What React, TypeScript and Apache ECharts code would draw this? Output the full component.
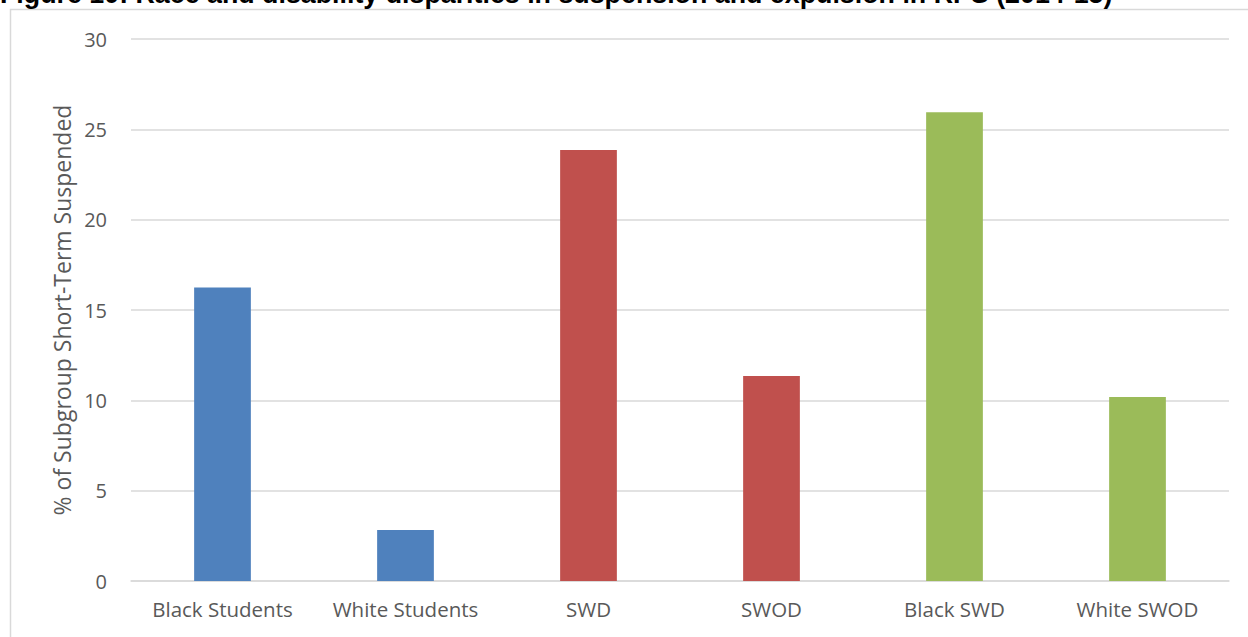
import React, { useEffect, useRef } from "react";
import * as echarts from "echarts";

const categories = ["Black Students", "White Students", "SWD", "SWOD", "Black SWD", "White SWOD"];
const values = [16.25, 2.82, 23.85, 11.35, 25.95, 10.18];
const barColors = ["#4F81BD", "#4F81BD", "#C0504D", "#C0504D", "#9BBB59", "#9BBB59"];
const yTicks = { min: 0, max: 30, interval: 5 };
const titleText = "Figure 10: Race and disability disparities in suspension and expulsion in RPS (2014-15)";
const yAxisName = "% of Subgroup Short-Term Suspended";

export default function App() {
  const ref = useRef<HTMLDivElement>(null);
  useEffect(() => {
    if (!ref.current) return;
    const chart = echarts.init(ref.current, null, { renderer: "svg" });
    chart.setOption({
      animation: false,
      backgroundColor: "#ffffff",
      grid: { left: 131, right: 19, top: 39, bottom: 56, containLabel: false },
      graphic: [
        {
          type: "rect",
          shape: { x: 10.5, y: 9.5, width: 1300, height: 700 },
          style: { fill: "none", stroke: "#d9d9d9", lineWidth: 1.5 },
          z: -1,
        },
        {
          type: "text",
          x: 0,
          y: -19.5,
          style: {
            text: titleText,
            font: 'bold 26.8px "Liberation Sans", Arial, sans-serif',
            fill: "#000000",
            textVerticalAlign: "top",
          },
        },
      ],
      xAxis: {
        type: "category",
        data: categories,
        axisLine: { lineStyle: { color: "#d9d9d9", width: 1.5 } },
        axisTick: { show: false },
        axisLabel: {
          color: "#595959",
          fontSize: 20.5,
          fontFamily: '"Open Sans", sans-serif',
          margin: 17,
          interval: 0,
          hideOverlap: false,
        },
      },
      yAxis: {
        type: "value",
        min: yTicks.min,
        max: yTicks.max,
        interval: yTicks.interval,
        name: yAxisName,
        nameLocation: "middle",
        nameGap: 56,
        nameRotate: 90,
        nameTextStyle: {
          color: "#595959",
          fontSize: 23,
          fontFamily: '"Open Sans", sans-serif',
        },
        axisLine: { show: false },
        axisTick: { show: false },
        axisLabel: {
          color: "#595959",
          fontSize: 20,
          fontFamily: '"Open Sans", sans-serif',
          margin: 24,
        },
        splitLine: { lineStyle: { color: "#d9d9d9", width: 1.5 } },
      },
      series: [
        {
          type: "bar",
          barWidth: "31%",
          data: values.map((v, i) => ({ value: v, itemStyle: { color: barColors[i] } })),
        },
      ],
    });
    return () => chart.dispose();
  }, []);
  return (
    <div
      ref={ref}
      style={{ position: "fixed", left: 0, top: 0, width: 1248, height: 637 }}
    />
  );
}
